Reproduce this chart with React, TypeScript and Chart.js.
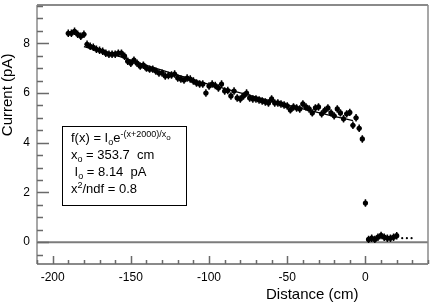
import React, { useEffect, useRef } from "react";
import { Chart, registerables } from "chart.js";
Chart.register(...registerables);

// ---- data ----
const distX = [
  -190, -188, -186, -184, -182, -180, -178, -176, -174, -172, -170, -168, -166, -164, -162, -160,
  -158, -156, -154, -152, -150, -148, -146, -144, -142, -140, -138, -136, -134, -132, -130, -128,
  -126, -124, -122, -120, -118, -116, -114, -112, -110, -108, -106, -104, -102, -100, -98, -96,
  -94, -92, -90, -88, -86, -84, -82, -80, -78, -76, -74, -72, -70, -68, -66, -64, -62, -60, -58,
  -56, -54, -52, -50, -48, -46, -44, -42, -40, -38, -36, -34, -32, -30, -28, -26, -24, -22, -20,
  -18, -16, -14, -12, -10, -8, -6, -4, -2, 0,
  2, 4, 6, 8, 10, 12, 14, 16, 18, 20,
];
const currentY = [
  8.4, 8.4, 8.48, 8.36, 8.28, 8.36, 7.96, 7.88, 7.84, 7.76, 7.72, 7.68, 7.6, 7.56, 7.56, 7.56,
  7.6, 7.6, 7.48, 7.28, 7.2, 7.32, 7.2, 7.08, 7.12, 7.0, 6.96, 6.96, 6.88, 6.8, 6.8, 6.68,
  6.7, 6.72, 6.76, 6.6, 6.56, 6.52, 6.6, 6.56, 6.48, 6.4, 6.36, 6.36, 6.0, 6.28, 6.36, 6.3,
  6.2, 6.36, 6.08, 6.1, 5.88, 6.08, 5.8, 5.76, 5.88, 6.0, 5.8, 5.76, 5.76, 5.72, 5.68, 5.64, 5.6, 5.76, 5.6,
  5.6, 5.56, 5.52, 5.48, 5.32, 5.44, 5.4, 5.36, 5.56, 5.44, 5.36, 5.2, 5.4, 5.44, 5.16, 5.3, 5.4, 5.2, 5.08,
  5.36, 5.2, 4.96, 5.16, 5.22, 4.7, 5.0, 4.58, 4.15, 1.57,
  0.11, 0.16, 0.11, 0.2, 0.27, 0.2, 0.16, 0.16, 0.2, 0.26,
];
const currentErr = 0.15;
const tailX = [23.5, 26.5, 29.5];
const tailY = [0.16, 0.16, 0.16];
const fitX = [-180, -160, -140, -120, -100, -80, -60, -40, -20, -8];
const fitY = [7.87, 7.52, 7.11, 6.72, 6.35, 6.0, 5.67, 5.36, 5.06, 4.89];
const xMajorTicks = [-200, -150, -100, -50, 0];
const yMajorTicks = [0, 2, 4, 6, 8];
const xMinorStep = 10;
const yMinorStep = 0.5;
const xTitle = "Distance (cm)";
const yTitle = "Current (pA)";

const FONT = "'Liberation Sans', Arial, sans-serif";

type Run = { t: string; s: number; dy: number };
const boxLines: Run[][] = [
  [
    { t: "f(x) = I", s: 13, dy: 0 },
    { t: "o", s: 9, dy: 3 },
    { t: "e", s: 13, dy: 0 },
    { t: "-(x+2000)/x", s: 9, dy: -5 },
    { t: "o", s: 8, dy: -2 },
  ],
  [
    { t: "x", s: 13, dy: 0 },
    { t: "o", s: 9, dy: 3 },
    { t: " = 353.7  cm", s: 13, dy: 0 },
  ],
  [
    { t: " I", s: 13, dy: 0 },
    { t: "o", s: 9, dy: 3 },
    { t: " = 8.14  pA", s: 13, dy: 0 },
  ],
  [
    { t: "x", s: 13, dy: 0 },
    { t: "2", s: 9, dy: -5 },
    { t: "/ndf = 0.8", s: 13, dy: 0 },
  ],
];

const decor = {
  id: "decor",
  beforeDatasetsDraw(chart: any) {
    const { ctx, chartArea: a, scales } = chart;
    const y0 = scales.y.getPixelForValue(0);
    ctx.save();
    ctx.strokeStyle = "#7c7c7c";
    ctx.lineWidth = 2;
    ctx.beginPath();
    ctx.moveTo(a.left, y0);
    ctx.lineTo(a.right, y0);
    ctx.stroke();
    ctx.restore();
  },
  afterDatasetsDraw(chart: any) {
    const { ctx, scales } = chart;
    const { x, y } = scales;
    ctx.save();
    ctx.strokeStyle = "#000";
    ctx.lineWidth = 1.5;
    distX.forEach((xv, i) => {
      const px = x.getPixelForValue(xv);
      const yt = y.getPixelForValue(currentY[i] + currentErr);
      const yb = y.getPixelForValue(currentY[i] - currentErr);
      const pc = y.getPixelForValue(currentY[i]);
      const xl = x.getPixelForValue(xv - 1.5);
      const xr = x.getPixelForValue(xv + 1.5);
      ctx.beginPath();
      ctx.moveTo(px, yt);
      ctx.lineTo(px, yb);
      ctx.moveTo(xl, pc);
      ctx.lineTo(xr, pc);
      ctx.stroke();
    });
    ctx.restore();
  },
  afterDraw(chart: any) {
    const { ctx, chartArea: a, scales } = chart;
    const { x, y } = scales;
    ctx.save();
    // frame
    ctx.strokeStyle = "#8a8a8a";
    ctx.lineWidth = 2;
    ctx.beginPath();
    ctx.moveTo(a.left, a.top);
    ctx.lineTo(a.right, a.top);
    ctx.moveTo(a.left, a.bottom);
    ctx.lineTo(a.right, a.bottom);
    ctx.stroke();
    ctx.lineWidth = 1.5;
    ctx.beginPath();
    ctx.moveTo(a.left, a.top);
    ctx.lineTo(a.left, a.bottom);
    ctx.moveTo(a.right, a.top);
    ctx.lineTo(a.right, a.bottom);
    ctx.stroke();
    // ticks (inward)
    ctx.strokeStyle = "#6a6a6a";
    ctx.lineWidth = 1.5;
    ctx.beginPath();
    const xmin = x.min, xmax = x.max;
    for (let v = Math.ceil(xmin / xMinorStep) * xMinorStep; v <= xmax + 1e-9; v += xMinorStep) {
      const px = Math.round(x.getPixelForValue(v)) + 0.5;
      const major = xMajorTicks.includes(v);
      ctx.moveTo(px, a.bottom);
      ctx.lineTo(px, a.bottom - (major ? 8 : 4));
    }
    const ymin = y.min, ymax = y.max;
    for (let v = Math.ceil(ymin / yMinorStep) * yMinorStep; v <= ymax + 1e-9; v += yMinorStep) {
      const py = Math.round(y.getPixelForValue(v)) + 0.5;
      const major = yMajorTicks.some((t) => Math.abs(t - v) < 1e-9);
      ctx.moveTo(a.left, py);
      ctx.lineTo(a.left + (major ? 12 : 6), py);
    }
    ctx.stroke();
    // axis titles
    ctx.fillStyle = "#000";
    ctx.font = `15px ${FONT}`;
    ctx.textAlign = "center";
    ctx.textBaseline = "middle";
    ctx.fillText(xTitle, a.left + 0.704 * (a.right - a.left), a.bottom + 31);
    ctx.save();
    ctx.translate(8, a.top + 0.347 * (a.bottom - a.top));
    ctx.rotate(-Math.PI / 2);
    ctx.fillText(yTitle, 0, 0);
    ctx.restore();
    // fit box
    const bl = a.left + 25, bt = a.top + 121, bw = 124, bh = 79;
    ctx.fillStyle = "#fff";
    ctx.fillRect(bl, bt, bw, bh);
    ctx.strokeStyle = "#000";
    ctx.lineWidth = 1;
    ctx.strokeRect(bl + 0.5, bt + 0.5, bw, bh);
    ctx.fillStyle = "#000";
    ctx.textAlign = "left";
    ctx.textBaseline = "alphabetic";
    boxLines.forEach((runs, li) => {
      let cx = bl + 9;
      const by = bt + 16 + li * 17;
      runs.forEach((r) => {
        ctx.font = `${r.s}px ${FONT}`;
        ctx.fillText(r.t, cx, by + r.dy);
        cx += ctx.measureText(r.t).width;
      });
    });
    ctx.restore();
  },
};

export default function App() {
  const ref = useRef<HTMLCanvasElement>(null);
  useEffect(() => {
    if (!ref.current) return;
    Chart.defaults.font.family = FONT;
    const chart = new Chart(ref.current, {
      type: "scatter",
      data: {
        datasets: [
          {
            label: "data",
            data: distX.map((v, i) => ({ x: v, y: currentY[i] })),
            pointRadius: 2.6,
            pointBackgroundColor: "#000",
            pointBorderColor: "#000",
            pointBorderWidth: 0,
          },
          {
            label: "tail",
            data: tailX.map((v, i) => ({ x: v, y: tailY[i] })),
            pointRadius: 1.1,
            pointBackgroundColor: "#000",
            pointBorderWidth: 0,
          },
          {
            label: "fit",
            type: "line",
            data: fitX.map((v, i) => ({ x: v, y: fitY[i] })),
            borderColor: "#000",
            borderWidth: 1.3,
            pointRadius: 0,
            cubicInterpolationMode: "monotone",
            showLine: true,
          } as any,
        ],
      },
      options: {
        responsive: false,
        animation: false,
        devicePixelRatio: 1,
        layout: { padding: { top: 5, right: 3, left: 0, bottom: 0 } },
        plugins: { legend: { display: false }, tooltip: { enabled: false } },
        scales: {
          x: {
            type: "linear",
            min: -210,
            max: 40,
            afterBuildTicks: (s: any) => {
              s.ticks = xMajorTicks.map((v) => ({ value: v }));
            },
            afterFit: (s: any) => {
              s.height = 40;
              s.paddingLeft = 0;
              s.paddingRight = 0;
            },
            ticks: {
              color: "#000",
              font: { size: 12, family: FONT },
              padding: 6,
              maxRotation: 0,
              autoSkip: false,
            },
            grid: { display: false, drawTicks: false },
            border: { display: false },
          },
          y: {
            type: "linear",
            min: -0.88,
            max: 9.54,
            afterBuildTicks: (s: any) => {
              s.ticks = yMajorTicks.map((v) => ({ value: v }));
            },
            afterFit: (s: any) => {
              s.width = 37;
              s.paddingTop = 0;
              s.paddingBottom = 0;
            },
            ticks: {
              color: "#000",
              font: { size: 12, family: FONT },
              padding: 7,
              autoSkip: false,
            },
            grid: { display: false, drawTicks: false },
            border: { display: false },
          },
        },
      },
      plugins: [decor],
    });
    return () => chart.destroy();
  }, []);
  return (
    <div style={{ position: "fixed", left: 0, top: 0, width: 432, height: 304, background: "#fff" }}>
      <canvas ref={ref} width={432} height={304} style={{ display: "block" }} />
    </div>
  );
}
